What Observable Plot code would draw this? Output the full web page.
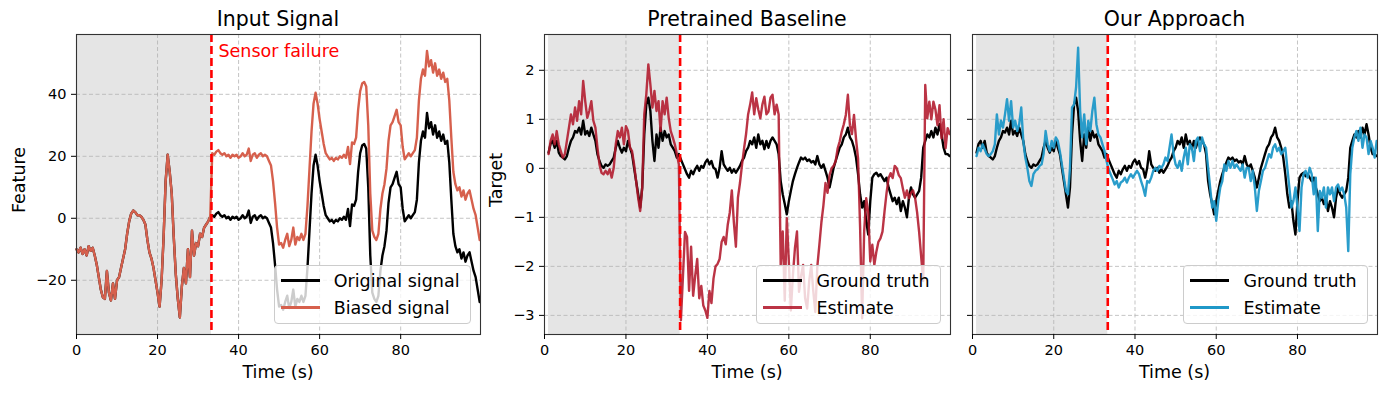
<!DOCTYPE html>
<html><head><meta charset="utf-8">
<script src="https://cdn.jsdelivr.net/npm/d3@7"></script>
<script src="https://cdn.jsdelivr.net/npm/@observablehq/plot@0.6"></script>
<style>
body{margin:0;background:#fff;font-family:"DejaVu Sans",sans-serif;color:#000;}
#fig{position:relative;width:1390px;height:394px;overflow:hidden;background:#fff;}
.panel{position:absolute;top:0;}
.title{position:absolute;font-size:20.5px;transform:translate(-50%,-50%);white-space:nowrap;}
.xlabel{position:absolute;font-size:17.5px;transform:translate(-50%,-50%);white-space:nowrap;}
.ylabel{position:absolute;font-size:17.5px;transform:translate(-50%,-50%) rotate(-90deg);white-space:nowrap;}
.legend{position:absolute;top:265px;height:59px;background:rgba(255,255,255,0.8);border:1px solid #cccccc;border-radius:4px;box-sizing:border-box;font-size:17.5px;padding:1px 10px 0 6px;}
.legend .row{height:27px;display:flex;align-items:center;white-space:nowrap;}
.legend .sw{display:inline-block;width:39px;height:2.6px;margin-right:14px;}
#fig svg g[aria-label="x-axis tick label"], #fig svg g[aria-label="y-axis tick label"],
#fig svg g[aria-label="x-axis tick label"] text, #fig svg g[aria-label="y-axis tick label"] text{font-size:14.5px !important;font-family:"DejaVu Sans",sans-serif;}
</style></head>
<body><div id="fig"></div>
<script>
// ---------------- data ----------------
const failureTime = 33.3;
const xTicks = [0, 20, 40, 60, 80];
const featureTicks = [-20, 0, 20, 40];
const targetTicks = [-3, -2, -1, 0, 1, 2];
const step = 0.5;
const inputStart = 0;   // panel 1 series start (s)
const targetStart = 1;  // panel 2/3 series start (s)

const originalSignal = [
 -10,-11,-9.5,-11.5,-10,-12,-9,-10.5,-9.5,-12,
 -15,-19,-23,-25.5,-26,-17,-24,-26.5,-21,-26,
 -20,-19,-16,-13,-10,-5,-1,1.5,2.5,2,
 1,1,0.5,-0.5,-2,-7,-11,-13,-16,-20,
 -24,-28.5,-20,-6,12,20.5,15,8,-6,-18,
 -26,-32,-22,-16,-21,-10,-19,-4,-12,-8,
 -9,-5,-6,-3,-2,-1,0.5,1,0.5,1.5,
 2,1,0.5,1,0,0.5,-0.5,0.5,0,0.5,
 -0.5,0,1,0,0.5,2.5,-1.5,0.5,1,-0.5,
 0.5,1,0,0.5,0,-1.5,-3,-8,-15,-23,
 -28.5,-28,-29.5,-27,-25,-29,-27,-23,-28.5,-26,
 -27,-25,-27,-25,-16,-4,8,17,20.5,17,
 12,8,4,1,0,-1,-0.5,-1.5,-0.5,-1,
 0,-0.5,0.5,-0.5,3,-2.5,4.5,4,6,15,
 21,23.5,24,22.5,10,-12,-24,-26,-27,-25,
 -17,-12,-9,-4,5,10,11,13,15,11,
 10,3,-1,0,1,0,1,2,6,18,
 25,28,26,34,29,31,27,30,26,28,
 25,27,24,25,18,6,-5,-9,-11,-10,
 -13,-11,-14,-12,-11,-14,-17,-19,-23,-27
];
const biasedSignal = [
 -10,-11,-9.5,-11.5,-10,-12,-9,-10.5,-9.5,-12,
 -15,-19,-23,-25.5,-26,-17,-24,-26.5,-21,-26,
 -20,-19,-16,-13,-10,-5,-1,1.5,2.5,2,
 1,1,0.5,-0.5,-2,-7,-11,-13,-16,-20,
 -24,-28.5,-20,-6,12,20.5,15,8,-6,-18,
 -26,-32,-22,-16,-21,-10,-19,-4,-12,-8,
 -9,-5,-6,-3,-2,-1,0.5,21,20.5,21.5,
 22,21,20.5,21,20,20.5,19.5,20.5,20,20.5,
 19.5,20,21,20,20.5,22.5,18.5,20.5,21,19.5,
 20.5,21,20,20.5,20,18.5,17,12,5,-3,
 -8.5,-8,-9.5,-7,-5,-9,-7,-3,-8.5,-6,
 -7,-5,-7,-5,4,16,28,37,40.5,37,
 32,28,24,21,20,19,19.5,18.5,19.5,19,
 20,19.5,20.5,19.5,23,17.5,24.5,24,26,35,
 41,43.5,44,42.5,30,8,-4,-6,-7,-5,
 3,8,11,16,25,30,31,33,35,31,
 30,23,19,20,21,20,21,22,26,38,
 45,48,46,54,49,51,47,50,46,48,
 45,47,44,45,38,26,15,11,9,10,
 7,9,6,8,9,6,3,1,-3,-7
];
const groundTruth = [
 0.32,0.5,0.56,0.42,0.56,0.32,0.25,0.22,
 0.18,0.25,0.42,0.56,0.63,0.76,0.73,0.83,0.69,0.97,
 0.69,0.76,0.66,0.83,0.69,0.56,0.29,0.15,0.05,0.01,
 0.08,0.05,0.08,0.15,0.22,0.42,0.56,0.42,0.32,0.42,
 0.35,0.56,0.42,0.29,0.01,-0.26,-0.53,-0.8,-0.39,0.69,
 1.3,1.44,1.17,0.56,0.15,0.69,0.42,0.83,0.56,0.76,
 0.63,0.69,0.49,0.42,0.35,0.22,0.29,0.18,0.08,-0.02,
 -0.12,-0.19,-0.05,-0.12,-0.02,0.05,-0.05,0.05,0.01,0.12,
 0.18,0.08,0.15,0.01,-0.02,-0.19,0.01,0.35,0.08,0.01,
 -0.05,0.01,-0.09,-0.02,-0.09,-0.02,0.05,0.15,0.22,0.35,
 0.42,0.56,0.49,0.63,0.42,0.69,0.49,0.56,0.39,0.56,
 0.42,0.56,0.63,0.56,0.49,0.29,-0.26,-0.53,-0.73,-0.94,
 -0.67,-0.46,-0.26,-0.12,0.01,0.12,0.22,0.18,0.22,0.15,
 0.18,0.12,0.15,0.08,0.25,0.08,0.01,0.08,-0.05,-0.19,
 -0.39,-0.19,0.01,0.15,0.29,0.42,0.49,0.63,0.69,0.83,
 0.63,0.56,0.42,0.22,-0.12,-0.53,-0.8,-0.67,-1.07,-1.35,
 -0.67,-0.19,-0.12,-0.09,-0.16,-0.12,-0.19,-0.26,-0.19,-0.39,
 -0.53,-0.67,-0.6,-0.73,-0.6,-0.87,-0.67,-0.8,-1.0,-0.6,
 -0.39,-0.53,-0.6,-0.53,-0.46,-0.19,0.42,0.56,0.69,0.63,
 0.76,0.63,0.83,0.69,0.9,0.69,0.42,0.29,0.29,0.25
];
const baselineEstimate = [
 0.29,0.56,0.69,0.49,0.76,0.49,0.35,0.22,
 0.29,0.56,0.83,1.1,0.9,1.24,0.97,1.37,1.1,1.78,
 1.37,1.03,1.17,1.37,0.97,0.83,0.42,0.08,-0.09,-0.12,
 -0.05,-0.12,-0.02,-0.19,0.01,0.49,0.76,0.63,0.83,0.49,
 0.86,0.76,0.42,0.35,0.08,-0.26,-0.6,-0.87,-0.39,1.1,
 1.51,2.12,1.71,1.24,1.58,1.17,1.37,0.76,1.37,1.1,
 1.44,1.03,0.76,0.63,0.49,0.29,0.08,-3.1,-2.2,-1.3,
 -1.4,-2.5,-1.6,-2.6,-2.2,-1.85,-2.65,-2.4,-2.8,-2.9,
 -3.05,-2.5,-2.75,-2.25,-2.0,-1.95,-1.85,-1.5,-1.4,-1.55,
 -1.15,-0.9,-0.45,-1.1,-1.6,-0.6,-0.3,0.07,0.4,0.7,
 1.1,1.3,1.55,1.1,1.43,1.2,1.02,1.3,1.46,1.1,
 1.16,1.44,1.5,1.1,1.3,1.1,-1.97,-1.29,-2.7,-1.02,
 -1.9,-2.9,-2.18,-1.63,-1.29,-2.52,-2.2,-1.97,-2.65,-2.86,
 -2.3,-1.97,-2.5,-2.93,-2.0,-1.56,-1.1,-0.75,-0.3,-0.5,
 -0.14,0.0,0.05,0.15,0.41,0.55,0.75,0.9,1.09,1.5,
 0.88,0.7,1.09,0.6,0.2,-1.2,-3.06,-1.29,-0.61,-0.9,
 -1.9,-1.56,-1.97,-1.7,-1.5,-1.43,-1.29,-0.88,-0.5,-0.2,
 -0.1,-0.2,0.05,0.0,-0.14,-0.2,-0.41,-0.6,-0.45,-0.61,
 -0.5,-0.45,-0.6,-0.9,-1.3,-1.8,-2.3,1.7,1.02,1.36,
 1.0,1.36,1.2,0.88,1.29,0.61,1.0,0.41,0.82,0.7
];
const ourEstimate = [
 0.25,0.42,0.35,0.49,0.39,0.29,0.25,0.29,
 0.35,0.49,1.1,0.69,0.97,0.83,1.1,1.41,0.97,1.37,
 0.83,0.97,0.76,0.9,1.24,0.56,0.22,0.01,-0.26,-0.36,
 -0.12,-0.05,-0.02,0.05,0.08,0.29,0.76,0.49,0.35,0.56,
 0.42,0.63,0.56,0.35,0.08,-0.19,-0.46,-0.53,0.01,1.24,
 1.3,1.65,2.46,1.17,0.63,1.1,0.49,0.97,0.76,1.17,
 1.44,0.9,0.69,0.63,0.49,0.35,0.15,-0.02,-0.12,-0.22,
 -0.33,-0.26,-0.39,-0.29,-0.26,-0.19,-0.29,-0.19,-0.12,-0.19,
 -0.12,-0.05,-0.12,-0.26,-0.39,-0.56,-0.26,-0.29,-0.19,-0.05,
 0.01,-0.05,0.05,0.01,0.08,0.22,0.15,0.42,0.69,0.29,
 0.08,0.01,0.15,-0.05,0.22,0.42,0.08,0.49,0.42,0.15,
 0.56,0.63,0.35,0.63,0.49,0.42,0.01,-0.39,-0.8,-0.67,
 -1.07,-0.67,-0.39,-0.26,0.08,-0.05,0.15,0.01,0.15,0.01,
 0.08,0.01,-0.05,0.08,-0.19,0.01,0.01,-0.26,-0.05,-0.39,
 -0.87,-0.46,-0.26,-0.05,0.01,0.15,0.29,0.22,0.42,0.49,
 0.35,0.42,0.29,0.35,0.42,0.01,-0.39,-0.8,-0.67,-0.39,
 -0.8,-1.28,-0.39,-0.12,-0.05,-0.19,0.01,-0.12,-0.53,-0.19,
 -1.28,-0.46,-0.6,-0.39,-0.8,-0.39,-0.53,-0.39,-0.67,-0.39,
 -0.33,-0.46,-0.39,-0.53,-0.8,-1.69,-0.12,0.42,0.63,0.76,
 0.56,0.83,0.42,0.69,0.63,0.29,0.56,0.42,0.22,0.56
];

// ---------------- helpers ----------------
const toSeries = (vals, start) => vals.map((v, i) => ({t: start + i * step, v}));
const intFmt = d => (d < 0 ? "\u2212" + Math.abs(d) : String(d));
const fig = document.getElementById("fig");
const gridStyle = {stroke: "#b0b0b0", strokeOpacity: 0.75, strokeDasharray: "4,2.5", strokeWidth: 1};

function addDiv(cls, text, x, y) {
  const d = document.createElement("div");
  d.className = cls; d.textContent = text;
  d.style.left = x + "px"; d.style.top = y + "px";
  fig.appendChild(d);
  return d;
}

function makePanel(cfg) {
  const marks = [
    Plot.rect([{a: cfg.shadeStart, b: failureTime}], {x1: "a", x2: "b", fill: "#e5e5e5"}),
    Plot.gridX({ticks: xTicks, ...gridStyle}),
    Plot.gridY({ticks: cfg.yTicks, ...gridStyle}),
    ...cfg.series.map(s => Plot.line(s.data, {x: "t", y: "v", stroke: s.color, strokeOpacity: s.opacity ?? 1, strokeWidth: 2.4, strokeLinejoin: "round"})),
    Plot.ruleX([failureTime], {stroke: "#ff0000", strokeWidth: 2.6, strokeDasharray: "8,4"}),
    Plot.frame({stroke: "#333", strokeWidth: 1.1}),
    Plot.axisX({ticks: xTicks, tickSize: 5, tickPadding: 5, label: null, fontSize: 14.5, tickFormat: intFmt}),
    Plot.axisY({ticks: cfg.yTicks, tickSize: 5, tickPadding: 5, label: null, fontSize: 14.5,
      tickFormat: cfg.yLabels ? intFmt : () => ""})
  ];
  if (cfg.annot) {
    marks.push(Plot.text([failureTime], {x: d => d, frameAnchor: "top", text: () => cfg.annot,
      dx: 7, dy: 17, textAnchor: "start", lineAnchor: "middle", fill: "#ff0000", fontSize: 17.5}));
  }
  const svg = Plot.plot({
    width: cfg.width, height: 394,
    marginLeft: cfg.ml, marginRight: cfg.mr, marginTop: 34, marginBottom: 60,
    x: {domain: [0, 99.7]},
    y: {domain: cfg.yDomain},
    style: {background: "transparent", fontFamily: "DejaVu Sans", fontSize: "14.5px", color: "#000", overflow: "visible"},
    marks
  });
  const wrap = document.createElement("div");
  wrap.className = "panel"; wrap.style.left = cfg.left + "px";
  wrap.appendChild(svg);
  fig.appendChild(wrap);

  const x0 = cfg.left + cfg.ml, x1 = cfg.left + cfg.width - cfg.mr;
  const cx = (x0 + x1) / 2;
  addDiv("title", cfg.title, cx, 18.5);
  addDiv("xlabel", "Time (s)", cx, 372);
  if (cfg.ylabel) addDiv("ylabel", cfg.ylabel, cfg.ylabelX, 180);

  const lg = document.createElement("div");
  lg.className = "legend";
  lg.style.right = (1390 - (x1 - 9.5)) + "px";
  cfg.legend.forEach(it => {
    const r = document.createElement("div"); r.className = "row";
    const sw = document.createElement("span"); sw.className = "sw"; sw.style.background = it.color;
    r.appendChild(sw);
    r.appendChild(document.createTextNode(it.label));
    lg.appendChild(r);
  });
  fig.appendChild(lg);
}

makePanel({
  left: 0, width: 490, ml: 76, mr: 10,
  yDomain: [-37.5, 59.3], yTicks: featureTicks, yLabels: true,
  shadeStart: inputStart,
  title: "Input Signal", ylabel: "Feature", ylabelX: 19,
  annot: "Sensor failure",
  series: [
    {data: toSeries(originalSignal, inputStart), color: "#000"},
    {data: toSeries(biasedSignal, inputStart), color: "#d6604d"}
  ],
  legend: [{label: "Original signal", color: "#000"}, {label: "Biased signal", color: "#d6604d"}]
});
makePanel({
  left: 480, width: 480, ml: 64, mr: 10,
  yDomain: [-3.39, 2.73], yTicks: targetTicks, yLabels: true,
  shadeStart: targetStart,
  title: "Pretrained Baseline", ylabel: "Target", ylabelX: 496,
  series: [
    {data: toSeries(groundTruth, targetStart), color: "#000"},
    {data: toSeries(baselineEstimate, targetStart), color: "#b2182b", opacity: 0.88}
  ],
  legend: [{label: "Ground truth", color: "#000"}, {label: "Estimate", color: "rgba(178,24,43,0.88)"}]
});
makePanel({
  left: 960, width: 430, ml: 12, mr: 13,
  yDomain: [-3.39, 2.73], yTicks: targetTicks, yLabels: false,
  shadeStart: targetStart,
  title: "Our Approach",
  series: [
    {data: toSeries(groundTruth, targetStart), color: "#000"},
    {data: toSeries(ourEstimate, targetStart), color: "#1f98c8", opacity: 0.95}
  ],
  legend: [{label: "Ground truth", color: "#000"}, {label: "Estimate", color: "#1f98c8"}]
});
</script></body></html>
